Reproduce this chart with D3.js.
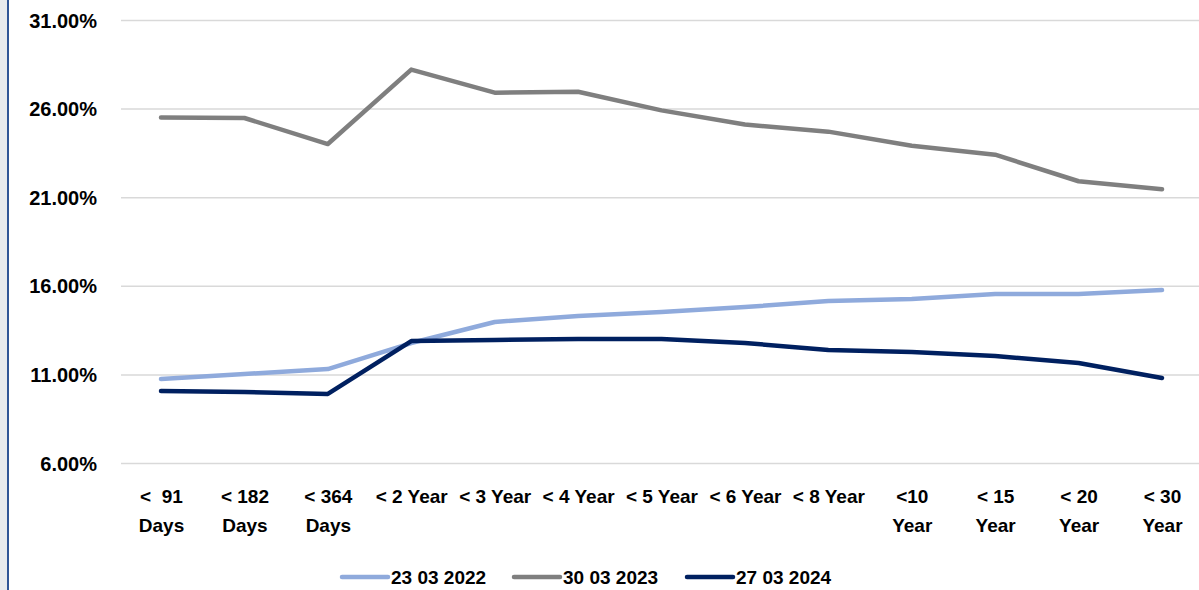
<!DOCTYPE html>
<meta charset="utf-8">
<html>
<head>
  <script src="https://d3js.org/d3.v7.min.js"></script>
  <style>
    body { margin: 0; background: #ffffff; }
    svg { display: block; }
    .y-axis text, .x-axis text, .legend text {
      font-family: 'Liberation Sans', Arial, sans-serif;
      font-weight: 700;
      font-size: 19px;
      fill: #000000;
    }
    .y-axis text { font-size: 20px; }
    .y-axis path, .x-axis path, .x-axis line { display: none; }
    .y-axis line { stroke: #d9d9d9; stroke-width: 1.5; }
  </style>
</head>
<body>
  <script>
    // Categories (two-line tick labels)
    var categories = ["<  91 Days", "< 182 Days", "< 364 Days", "< 2 Year", "< 3 Year", "< 4 Year",
      "< 5 Year", "< 6 Year", "< 8 Year", "<10 Year", "< 15 Year", "< 20 Year", "< 30 Year"];
    var labelLine1 = ["<  91", "< 182", "< 364", "< 2 Year", "< 3 Year", "< 4 Year",
      "< 5 Year", "< 6 Year", "< 8 Year", "<10", "< 15", "< 20", "< 30"];
    var labelLine2 = ["Days", "Days", "Days", "", "", "", "", "", "", "Year", "Year", "Year", "Year"];

    // Series values (%)
    var s2022 = [10.74, 11.02, 11.3, 12.77, 13.96, 14.3, 14.52, 14.8, 15.14, 15.25, 15.54, 15.54, 15.76];
    var s2023 = [25.5, 25.47, 24.0, 28.2, 26.9, 26.95, 25.9, 25.1, 24.7, 23.9, 23.4, 21.9, 21.45];
    var s2024 = [10.06, 10.0, 9.9, 12.88, 12.94, 13.0, 13.0, 12.77, 12.38, 12.26, 12.04, 11.64, 10.8];

    var seriesNames = ["23 03 2022", "30 03 2023", "27 03 2024"];
    var yTicks = [6, 11, 16, 21, 26, 31];

    var W = 1199, H = 590;
    var colors = ["#8faadc", "#7f7f7f", "#002060"];
    var allSeries = [s2022, s2023, s2024];

    var svg = d3.select("body").append("svg")
      .attr("width", W)
      .attr("height", H);

    // Left frame strip
    svg.append("rect").attr("x", 0).attr("y", 0).attr("width", 7).attr("height", H).attr("fill", "#e7eaee");
    svg.append("rect").attr("x", 7).attr("y", 0).attr("width", 2).attr("height", H).attr("fill", "#2f5597");

    // Scales
    var x = d3.scalePoint()
      .domain(categories)
      .range([161, 1162]);

    var y = d3.scaleLinear()
      .domain([6, 31])
      .range([463, 20]);

    // Y axis with gridlines
    svg.append("g")
      .attr("class", "y-axis")
      .attr("transform", "translate(121,0)")
      .call(d3.axisLeft(y)
        .tickValues(yTicks)
        .tickSize(-(W - 121))
        .tickPadding(24)
        .tickFormat(d => d.toFixed(2) + "%"))
      .selectAll("text").attr("dy", "0.35em");

    // X axis labels
    var xAxis = svg.append("g")
      .attr("class", "x-axis")
      .attr("transform", "translate(0,463)")
      .call(d3.axisBottom(x).tickSize(0).tickFormat(""));

    var ticks = xAxis.selectAll(".tick");
    ticks.append("text")
      .attr("y", 40)
      .attr("text-anchor", "middle")
      .attr("xml:space", "preserve")
      .text((d, i) => labelLine1[i]);
    ticks.append("text")
      .attr("y", 69)
      .attr("text-anchor", "middle")
      .text((d, i) => labelLine2[i]);

    // Lines
    var line = d3.line()
      .x((d, i) => x(categories[i]))
      .y(d => y(d));

    allSeries.forEach((s, k) => {
      svg.append("path")
        .datum(s)
        .attr("fill", "none")
        .attr("stroke", colors[k])
        .attr("stroke-width", 4.5)
        .attr("stroke-linecap", "round")
        .attr("stroke-linejoin", "round")
        .attr("d", line);
    });

    // Legend
    var legendX = [342, 514, 687];
    var legend = svg.append("g").attr("class", "legend");
    seriesNames.forEach((name, k) => {
      legend.append("line")
        .attr("x1", legendX[k]).attr("x2", legendX[k] + 46)
        .attr("y1", 577).attr("y2", 577)
        .attr("stroke", colors[k])
        .attr("stroke-width", 4.5)
        .attr("stroke-linecap", "round");
      legend.append("text")
        .attr("x", legendX[k] + 49)
        .attr("y", 584)
        .text(name);
    });
  </script>
</body>
</html>
